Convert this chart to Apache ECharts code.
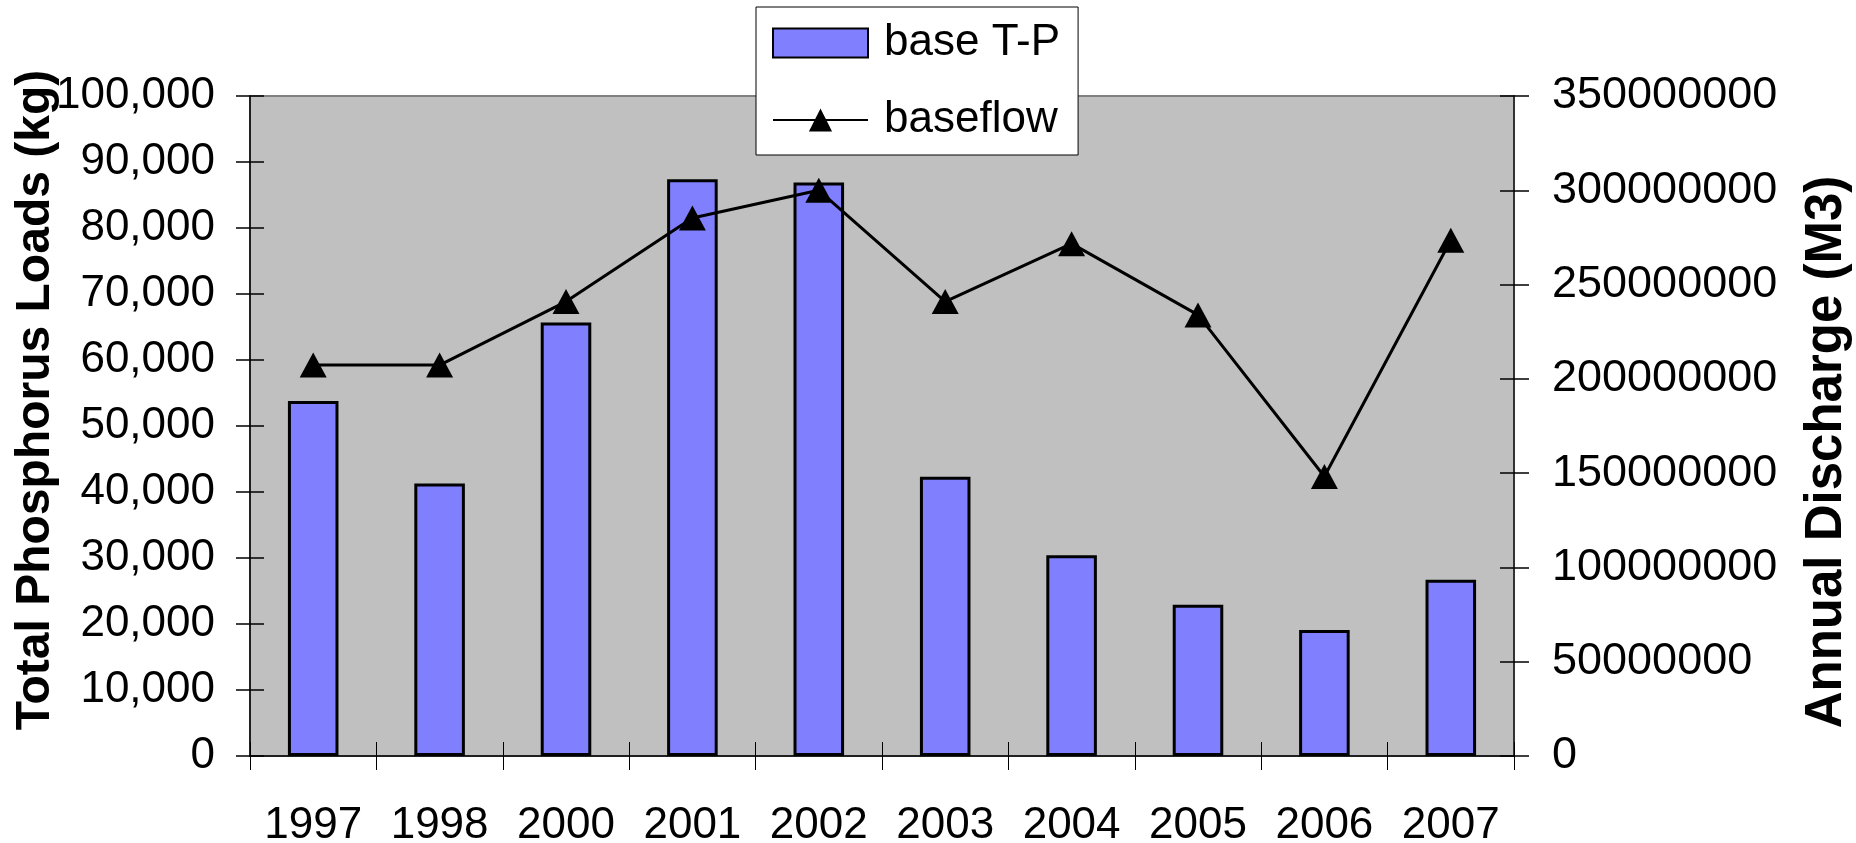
<!DOCTYPE html>
<html>
<head>
<meta charset="utf-8">
<title>base T-P and baseflow</title>
<script src="https://cdn.jsdelivr.net/npm/echarts@6/dist/echarts.min.js"></script>
<style>
  * { margin: 0; padding: 0; }
  body { background: #fff; }
  #chart { width: 1856px; height: 843px; }
</style>
</head>
<body>
<div id="chart"></div>
<script>
// values
var years = ['1997', '1998', '2000', '2001', '2002', '2003', '2004', '2005', '2006', '2007']
var baseTP = [53800, 41300, 65700, 87400, 86900, 42300, 30400, 22900, 19100, 26700]
var baseflow = [207300000, 207300000, 241000000, 285300000, 300000000, 241000000, 271700000, 233900000, 148200000, 273500000]
var leftTicks = { min: 0, max: 100000, interval: 10000 }
var rightTicks = { min: 0, max: 350000000, interval: 50000000 }

var FONT = "'Liberation Sans', Arial, sans-serif"

var myChart = echarts.init(document.getElementById('chart'))

// excel style "cross" ticks: a second axis on each side draws the inside half
function innerY (pos, t) {
  return {
    type: 'value', position: pos, min: t.min, max: t.max, interval: t.interval,
    axisLine: { show: false }, axisLabel: { show: false }, splitLine: { show: false },
    axisTick: { show: true, inside: true, length: 14, lineStyle: { color: '#000', width: 1.5 } }
  }
}

myChart.setOption({
  animation: false,
  textStyle: { fontFamily: FONT },
  grid: {
    left: 250, right: 342, top: 96, bottom: 87,
    outerBoundsMode: 'none',
    containLabel: false,
    show: true, backgroundColor: '#C0C0C0', borderColor: '#808080', borderWidth: 2
  },
  legend: {
    left: 756, top: 7,
    orient: 'vertical',
    backgroundColor: '#fff',
    borderColor: '#000', borderWidth: 1,
    padding: [11, 18, 10, 16],
    itemWidth: 95, itemHeight: 29, itemGap: 27,
    textStyle: { fontFamily: FONT, fontSize: 44, color: '#000', lineHeight: 50, padding: [0, 0, 0, 11] },
    data: [{ name: 'base T-P', icon: 'rect' }, 'baseflow']
  },
  xAxis: [{
    type: 'category', data: years,
    axisLine: { lineStyle: { color: '#000', width: 1.5 } },
    axisTick: { show: true, length: 14, lineStyle: { color: '#000', width: 1 } },
    axisLabel: { fontSize: 44, color: '#000', margin: 48, fontFamily: FONT, interval: 0 }
  }, {
    type: 'category', data: years, position: 'bottom',
    axisLine: { show: false }, axisLabel: { show: false },
    axisTick: { show: true, inside: true, length: 14, lineStyle: { color: '#000', width: 1 } }
  }],
  yAxis: [{
    type: 'value', position: 'left',
    min: leftTicks.min, max: leftTicks.max, interval: leftTicks.interval,
    name: 'Total Phosphorus Loads (kg)',
    nameLocation: 'middle', nameGap: 190,
    nameMoveOverlap: false,
    nameTextStyle: {
      fontFamily: FONT, fontSize: 48, fontWeight: 'bold', color: '#000',
      padding: [0, 0, 0, 52]
    },
    axisLine: { show: true, lineStyle: { color: '#000', width: 1.5 } },
    axisTick: { show: true, length: 14, lineStyle: { color: '#000', width: 1.5 } },
    splitLine: { show: false },
    axisLabel: {
      fontSize: 44, color: '#000', margin: 35, fontFamily: FONT,
      formatter: function (v) { return v.toLocaleString('en-US') }
    }
  }, {
    type: 'value', position: 'right',
    min: rightTicks.min, max: rightTicks.max, interval: rightTicks.interval,
    name: 'Annual Discharge (M3)',
    nameLocation: 'middle', nameGap: 287,
    nameMoveOverlap: false,
    nameTextStyle: {
      fontFamily: FONT, fontSize: 51, fontWeight: 'bold', color: '#000',
      padding: [0, 52, 0, 0]
    },
    axisLine: { show: true, lineStyle: { color: '#333', width: 2 } },
    axisTick: { show: true, length: 15, lineStyle: { color: '#000', width: 1.5 } },
    splitLine: { show: false },
    axisLabel: {
      fontSize: 45, color: '#000', margin: 38, fontFamily: FONT,
      formatter: function (v) { return String(v) }
    }
  },
  innerY('left', leftTicks),
  innerY('right', rightTicks)
  ],
  series: [{
    name: 'base T-P',
    type: 'bar',
    xAxisIndex: 0, yAxisIndex: 0,
    barWidth: '40%',
    itemStyle: { color: '#8080FF', borderColor: '#000', borderWidth: 3 },
    data: baseTP
  }, {
    name: 'baseflow',
    type: 'line',
    xAxisIndex: 0, yAxisIndex: 1,
    symbol: 'triangle', symbolSize: [27, 25],
    lineStyle: { color: '#000', width: 3 },
    itemStyle: { color: '#000' },
    data: baseflow
  }]
})
</script>
</body>
</html>
